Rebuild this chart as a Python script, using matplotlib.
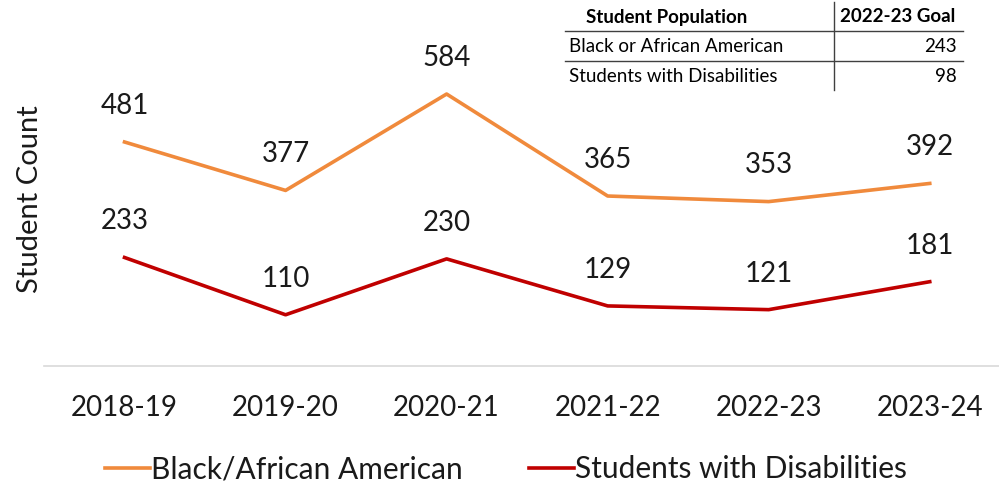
import matplotlib.pyplot as plt
from matplotlib.lines import Line2D

plt.rcParams['font.family'] = ['Lato', 'DejaVu Sans']

years = ['2018-19', '2019-20', '2020-21', '2021-22', '2022-23', '2023-24']
black_african_american = [481, 377, 584, 365, 353, 392]
students_disabilities = [233, 110, 230, 129, 121, 181]

goal_groups = ['Black or African American', 'Students with Disabilities']
goal_values = [243, 98]

orange = '#F08A3C'
red = '#C00000'

fig = plt.figure(figsize=(9.99, 4.91), dpi=100)
ax = fig.add_axes([44 / 999, 1 - 366 / 491, 955 / 999, 326 / 491])

x = range(len(years))
ax.plot(x, black_african_american, color=orange, lw=2.6, label='Black/African American')
ax.plot(x, students_disabilities, color=red, lw=2.6, label='Students with Disabilities')

for xi, v in zip(x, black_african_american):
    ax.annotate(str(v), (xi, v), xytext=(0, 26), textcoords='offset points',
                ha='center', va='center', fontsize=20, color='#1a1a1a')
for xi, v in zip(x, students_disabilities):
    ax.annotate(str(v), (xi, v), xytext=(0, 26), textcoords='offset points',
                ha='center', va='center', fontsize=20, color='#1a1a1a')

ax.set_xlim(-0.5, 5.43)
ax.set_ylim(0, 700)
ax.set_xticks(list(x))
ax.set_xticklabels(years, fontsize=20, color='#1a1a1a')
ax.tick_params(axis='x', length=0, pad=21)
ax.set_yticks([])
for side in ['top', 'right', 'left']:
    ax.spines[side].set_visible(False)
ax.spines['bottom'].set_color('#d9d9d9')
ax.spines['bottom'].set_linewidth(1.2)

fig.text(30 / 999, 1 - 199 / 491, 'Student Count', rotation=90, ha='center', va='center',
         fontsize=21, color='#1a1a1a')

fig.legend(loc='center', bbox_to_anchor=(506 / 999, 1 - 469 / 491), ncol=2, frameon=False,
           fontsize=21.5, handlelength=1.5, handletextpad=0.05, columnspacing=2.2,
           labelcolor='#1a1a1a')

# goal table in the top right corner
def fx(px):
    return px / 999

def fy(py):
    return 1 - py / 491

fs_table = 13.5
fig.text(fx(667), fy(17), 'Student Population', ha='center', va='center',
         fontsize=fs_table, fontweight='bold')
fig.text(fx(898), fy(17), '2022-23 Goal', ha='center', va='center',
         fontsize=fs_table, fontweight='bold')
for i, (g, v) in enumerate(zip(goal_groups, goal_values)):
    yy = 47 + 30 * i
    fig.text(fx(569), fy(yy), g, ha='left', va='center', fontsize=fs_table)
    fig.text(fx(957), fy(yy), str(v), ha='right', va='center', fontsize=fs_table)
for yy in [31, 61]:
    fig.add_artist(Line2D([fx(565), fx(963)], [fy(yy), fy(yy)], color='#404040', lw=1))
fig.add_artist(Line2D([fx(834), fx(834)], [fy(2), fy(90)], color='#404040', lw=1))

fig.savefig('out.png', dpi=100)
